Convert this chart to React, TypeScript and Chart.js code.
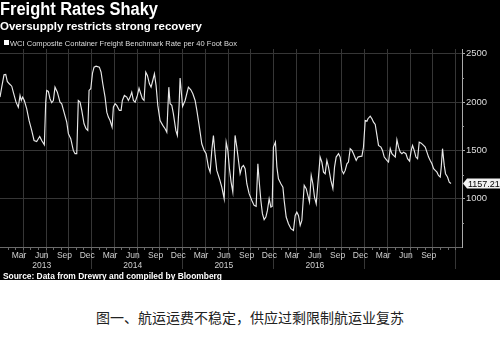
import { useEffect, useRef } from "react";
import { Chart, registerables } from "chart.js";

Chart.register(...registerables);

const TITLE = "Freight Rates Shaky";
const SUBTITLE = "Oversupply restricts strong recovery";
const SERIES_NAME = "WCI Composite Container Freight Benchmark Rate per 40 Foot Box";
const SOURCE = "Source: Data from Drewry and compiled by Bloomberg";
const CAPTION = "图一、航运运费不稳定，供应过剩限制航运业复苏";

// Sample dates as decimal years
const sampleYears = [
  2013.000, 2013.019, 2013.044, 2013.063, 2013.080, 2013.102, 2013.129, 2013.146, 2013.176, 2013.201,
  2013.220, 2013.234, 2013.249, 2013.267, 2013.293, 2013.319, 2013.348, 2013.374, 2013.403, 2013.421,
  2013.436, 2013.458, 2013.487, 2013.502, 2013.513, 2013.531, 2013.549, 2013.568, 2013.586, 2013.604,
  2013.630, 2013.659, 2013.678, 2013.703, 2013.733, 2013.751, 2013.777, 2013.805, 2013.824, 2013.843,
  2013.860, 2013.879, 2013.898, 2013.923, 2013.945, 2013.964, 2013.978, 2013.997, 2014.016, 2014.033,
  2014.055, 2014.091, 2014.110, 2014.129, 2014.154, 2014.173, 2014.190, 2014.209, 2014.231, 2014.245,
  2014.264, 2014.282, 2014.311, 2014.330, 2014.344, 2014.366, 2014.392, 2014.410, 2014.429, 2014.447,
  2014.465, 2014.484, 2014.509, 2014.527, 2014.546, 2014.564, 2014.582, 2014.601, 2014.619, 2014.641,
  2014.659, 2014.678, 2014.696, 2014.714, 2014.733, 2014.758, 2014.788, 2014.813, 2014.832, 2014.854,
  2014.868, 2014.887, 2014.904, 2014.931, 2014.948, 2014.967, 2014.978, 2015.005, 2015.033, 2015.069,
  2015.096, 2015.118, 2015.143, 2015.162, 2015.190, 2015.216, 2015.242, 2015.264, 2015.289, 2015.308,
  2015.326, 2015.344, 2015.363, 2015.381, 2015.410, 2015.436, 2015.462, 2015.473, 2015.484, 2015.502,
  2015.520, 2015.538, 2015.557, 2015.571, 2015.582, 2015.601, 2015.619, 2015.637, 2015.656, 2015.674,
  2015.692, 2015.711, 2015.736, 2015.766, 2015.791, 2015.813, 2015.832, 2015.846, 2015.865, 2015.882,
  2015.901, 2015.920, 2015.937, 2015.956, 2015.975, 2015.989, 2016.003, 2016.025, 2016.041, 2016.058,
  2016.085, 2016.107, 2016.121, 2016.143, 2016.168, 2016.195, 2016.223, 2016.242, 2016.260, 2016.278,
  2016.297, 2016.315, 2016.341, 2016.363, 2016.381, 2016.399, 2016.418, 2016.436, 2016.454, 2016.473,
  2016.491, 2016.516, 2016.535, 2016.553, 2016.571, 2016.590, 2016.608, 2016.634, 2016.656, 2016.674,
  2016.692, 2016.718, 2016.736, 2016.755, 2016.773, 2016.791, 2016.810, 2016.827, 2016.846, 2016.865,
  2016.882, 2016.912, 2016.931, 2016.956, 2016.975, 2016.992, 2017.011, 2017.030, 2017.041, 2017.066,
  2017.085, 2017.102, 2017.121, 2017.140, 2017.157, 2017.184, 2017.201, 2017.220, 2017.249, 2017.267,
  2017.286, 2017.304, 2017.322, 2017.341, 2017.359, 2017.377, 2017.396, 2017.414, 2017.432, 2017.458,
  2017.476, 2017.498, 2017.516, 2017.531, 2017.549, 2017.568, 2017.586, 2017.604, 2017.626, 2017.652,
  2017.670, 2017.689, 2017.707, 2017.725, 2017.744, 2017.762, 2017.780, 2017.799, 2017.816, 2017.835,
  2017.846, 2017.860, 2017.879, 2017.893, 2017.915, 2017.934, 2017.953,
];

// WCI composite rate, USD per 40ft box
const rates = [
  2052, 2155, 2283, 2287, 2214, 2190, 2165, 2103, 2000, 1948,
  2069, 2017, 2052, 2017, 1932, 1810, 1707, 1603, 1593, 1621,
  1645, 1603, 1559, 2000, 2121, 2111, 2035, 1994, 2017, 2155,
  2103, 2000, 1983, 1896, 1793, 1673, 1621, 1500, 1466, 1466,
  2017, 2000, 1914, 1776, 1725, 1707, 2121, 2139, 2300, 2362,
  2372, 2362, 2310, 2190, 2052, 1896, 1845, 1810, 1741, 1948,
  1983, 1966, 1914, 1914, 2017, 2069, 2052, 2017, 2052, 2103,
  2017, 2000, 2069, 2145, 2087, 2035, 2017, 2310, 2276, 2190,
  2155, 2224, 2294, 2173, 1966, 1810, 1759, 1725, 1689, 2155,
  1983, 1966, 1880, 1707, 1655, 1966, 2250, 1955, 2017, 2155,
  2128, 2087, 2017, 1914, 1741, 1569, 1500, 1466, 1327, 1275,
  1500, 1655, 1448, 1293, 1207, 1120, 1000, 1327, 1586, 1500,
  1310, 1172, 1068, 1396, 1655, 1534, 1396, 1259, 1327, 1345,
  1310, 1155, 1052, 982, 931, 920, 1362, 1189, 982, 845,
  783, 810, 879, 1000, 913, 920, 1534, 1586, 1327, 1207,
  1155, 1120, 982, 810, 741, 690, 672, 827, 861, 827,
  724, 775, 1138, 1104, 1034, 965, 1241, 1155, 1017, 948,
  1155, 1431, 1379, 1275, 1259, 1396, 1327, 1189, 1104, 1327,
  1431, 1466, 1431, 1293, 1259, 1293, 1362, 1379, 1518, 1500,
  1466, 1396, 1431, 1438, 1440, 1534, 1810, 1803, 1828, 1855,
  1828, 1793, 1769, 1655, 1552, 1534, 1500, 1431, 1396, 1379,
  1518, 1466, 1448, 1431, 1611, 1534, 1482, 1466, 1482, 1466,
  1414, 1389, 1500, 1552, 1500, 1431, 1414, 1586, 1575, 1552,
  1534, 1482, 1431, 1396, 1362, 1310, 1293, 1275, 1241, 1224,
  1327, 1518, 1345, 1259, 1224, 1172, 1157.21,
];

const monthNames = ["Jan", "Feb", "Mar", "Apr", "May", "Jun", "Jul", "Aug", "Sep", "Oct", "Nov", "Dec"];
const labelledMonths = [2, 5, 8, 11];
const yearLabelMonth = 5;
const rateTicks = [1000, 1500, 2000, 2500];
const minorRateTicks = [750, 1250, 1750, 2250];
const xMin = 2013.0;
const xMax = 2018.074;
const yMin = 500;
const yMax = 2550;

const FONT = '"Liberation Sans", Arial, sans-serif';

const decorPlugin = {
  id: "decor",
  beforeDraw(chart: any) {
    const { ctx, width, height } = chart;
    ctx.save();
    ctx.fillStyle = "#000";
    ctx.fillRect(0, 0, width, height);
    ctx.restore();
  },
  beforeDatasetsDraw(chart: any) {
    const { ctx, chartArea: a, scales } = chart;
    const x = scales.x;
    ctx.save();
    ctx.strokeStyle = "#363636";
    ctx.lineWidth = 1;
    // quarter grid lines, year boundaries run down into the label band
    for (let yr = 2013; yr <= 2018; yr++) {
      for (let m = 0; m < 12; m += 3) {
        const t = yr + m / 12;
        if (t <= x.min || t >= x.max) continue;
        const px = Math.round(x.getPixelForValue(t)) + 0.5;
        ctx.beginPath();
        ctx.moveTo(px, a.top);
        ctx.lineTo(px, m === 0 ? a.bottom + 22 : a.bottom + 12);
        ctx.stroke();
      }
    }
    // bottom axis line with monthly ticks
    ctx.strokeStyle = "#6a6a6a";
    ctx.beginPath();
    ctx.moveTo(a.left, a.bottom + 0.5);
    ctx.lineTo(a.right, a.bottom + 0.5);
    ctx.stroke();
    for (let yr = 2013; yr <= 2018; yr++) {
      for (let m = 0; m < 12; m++) {
        const t = yr + m / 12;
        if (t <= x.min || t >= x.max) continue;
        const px = Math.round(x.getPixelForValue(t)) + 0.5;
        ctx.beginPath();
        ctx.moveTo(px, a.bottom);
        ctx.lineTo(px, a.bottom + 3);
        ctx.stroke();
      }
    }
    ctx.restore();
  },
  afterDraw(chart: any) {
    const { ctx, chartArea: a, scales } = chart;
    const x = scales.x;
    const y = scales.y;
    const lastT = sampleYears[sampleYears.length - 1];
    const lastV = rates[rates.length - 1];
    ctx.save();

    // headings
    ctx.fillStyle = "#fff";
    ctx.textBaseline = "alphabetic";
    ctx.textAlign = "left";
    ctx.font = `bold 17.5px ${FONT}`;
    ctx.fillText(TITLE, 0, 15, 158);
    ctx.font = `bold 11.5px ${FONT}`;
    ctx.fillText(SUBTITLE, 0, 29.5, 212);
    ctx.fillStyle = "#fff";
    ctx.fillRect(4, 40, 5, 5);
    ctx.fillStyle = "#ddd";
    ctx.font = `8px ${FONT}`;
    ctx.fillText(SERIES_NAME, 10, 45.5, 227);

    // month and year labels
    ctx.fillStyle = "#cfcfcf";
    ctx.textAlign = "center";
    ctx.font = `8.5px ${FONT}`;
    for (let yr = 2013; yr <= 2018; yr++) {
      for (const m of labelledMonths) {
        if (yr + (m + 1) / 12 > lastT) continue;
        const px = x.getPixelForValue(yr + (m + 0.5) / 12);
        ctx.fillText(monthNames[m], px, 258);
      }
      if (yr + 1 <= lastT) {
        const px = x.getPixelForValue(yr + (yearLabelMonth + 0.5) / 12);
        ctx.fillText(String(yr), px, 267.5);
      }
    }

    // minor ticks on the rate axis
    ctx.strokeStyle = "#999";
    for (const v of minorRateTicks) {
      const py = Math.round(y.getPixelForValue(v)) + 0.5;
      ctx.beginPath();
      ctx.moveTo(a.right, py);
      ctx.lineTo(a.right + 2, py);
      ctx.stroke();
    }

    // last value tag
    const ty = y.getPixelForValue(lastV);
    const tx = a.right + 1;
    ctx.fillStyle = "#f2f2f2";
    ctx.beginPath();
    ctx.moveTo(tx, ty);
    ctx.lineTo(tx + 4, ty - 5);
    ctx.lineTo(500, ty - 5);
    ctx.lineTo(500, ty + 5);
    ctx.lineTo(tx + 4, ty + 5);
    ctx.closePath();
    ctx.fill();
    ctx.fillStyle = "#000";
    ctx.textAlign = "left";
    ctx.textBaseline = "middle";
    ctx.font = `9px ${FONT}`;
    ctx.fillText(lastV.toFixed(2), tx + 5, ty + 0.5, 33);

    // source
    ctx.fillStyle = "#fff";
    ctx.textBaseline = "alphabetic";
    ctx.font = `bold 8.8px ${FONT}`;
    ctx.fillText(SOURCE, 3, 279, 219);
    ctx.restore();
  },
};

export default function App() {
  const canvasRef = useRef<HTMLCanvasElement | null>(null);

  useEffect(() => {
    document.body.style.margin = "0";
    const canvas = canvasRef.current;
    if (!canvas) return;
    const chart = new Chart(canvas, {
      type: "line",
      data: {
        datasets: [
          {
            label: SERIES_NAME,
            data: sampleYears.map((t, i) => ({ x: t, y: rates[i] })),
            borderColor: "#e8e8e8",
            borderWidth: 1.15,
            pointRadius: 0,
            tension: 0,
            fill: false,
          },
        ],
      },
      options: {
        responsive: false,
        maintainAspectRatio: false,
        devicePixelRatio: 1,
        animation: false,
        layout: { padding: { top: 49, bottom: 33, left: 0, right: 0 } },
        plugins: { legend: { display: false }, tooltip: { enabled: false }, title: { display: false } },
        scales: {
          x: { type: "linear", min: xMin, max: xMax, display: false },
          y: {
            position: "right",
            min: yMin,
            max: yMax,
            afterBuildTicks: (scale: any) => {
              scale.ticks = rateTicks.map((v) => ({ value: v }));
            },
            afterFit: (scale: any) => {
              scale.width = 38;
            },
            grid: { color: "#363636", tickColor: "#aaa", tickLength: 3, drawTicks: true },
            border: { color: "#aaa" },
            ticks: {
              color: "#ddd",
              padding: 1,
              font: { family: FONT, size: 9.5 },
              callback: (v: any) => String(v),
            },
          },
        },
      },
      plugins: [decorPlugin],
    });
    return () => chart.destroy();
  }, []);

  return (
    <div style={{ position: "relative", width: 500, height: 344, background: "#fff" }}>
      <canvas ref={canvasRef} width={500} height={280} style={{ display: "block" }} />
      <div
        style={{
          position: "absolute",
          top: 308,
          left: 0,
          width: 500,
          textAlign: "center",
          fontFamily: '"Noto Sans CJK SC", sans-serif',
          fontSize: 14,
          lineHeight: "18px",
          color: "#222",
        }}
      >
        {CAPTION}
      </div>
    </div>
  );
}
